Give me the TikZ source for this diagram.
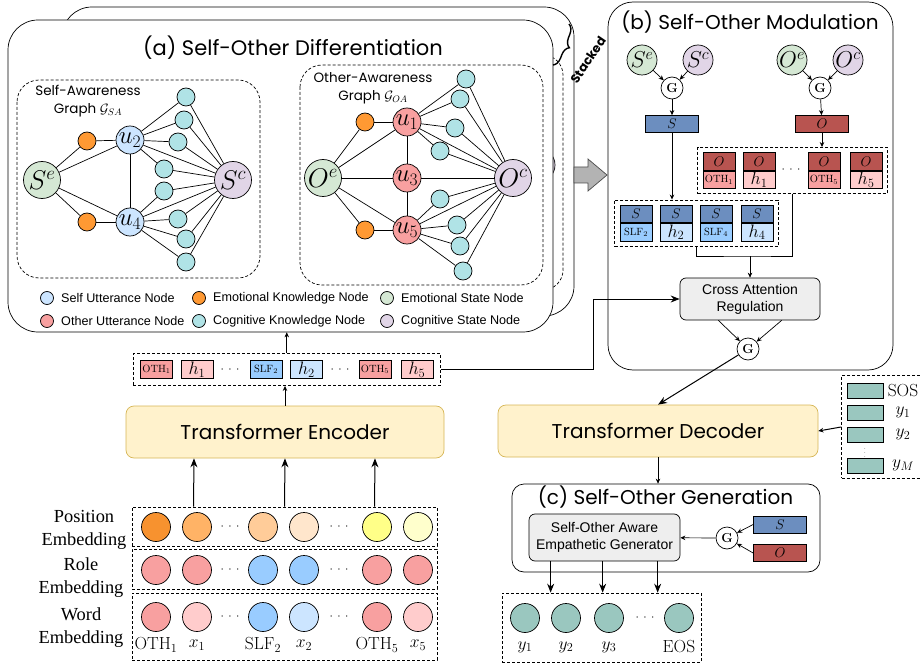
\RequirePackage{fix-cm}
\documentclass[tikz,border=0pt]{standalone}
\usepackage{amsmath}
\usepackage{fontspec}
\newfontfamily\comicfont{Poppins}
\newfontfamily\arialfont{Liberation Sans}
\newfontfamily\timesfont{Liberation Serif}
\definecolor{selfblue}{HTML}{CCE5FF}
\definecolor{slfblue}{HTML}{99CCFF}
\definecolor{othred}{HTML}{F8A0A0}
\definecolor{othpink}{HTML}{FFCCCC}
\definecolor{emoorange}{HTML}{FF9933}
\definecolor{cogcyan}{HTML}{B0E3E6}
\definecolor{estgreen}{HTML}{D5E8D4}
\definecolor{cstpurple}{HTML}{E1D5E7}
\definecolor{sblue}{HTML}{6C8EBF}
\definecolor{ored}{HTML}{B85450}
\definecolor{tfyellow}{HTML}{FFF2CC}
\definecolor{tfborder}{HTML}{D6B656}
\definecolor{outteal}{HTML}{9AC7BF}
\definecolor{boxgray}{HTML}{EEEEEE}
\definecolor{flowgray}{HTML}{B3B3B3}
\definecolor{posA}{HTML}{F7922F}
\definecolor{posB}{HTML}{FFB366}
\definecolor{posC}{HTML}{FFCC99}
\definecolor{posD}{HTML}{FFE6CC}
\definecolor{posE}{HTML}{FFFF88}
\definecolor{posF}{HTML}{FFFFCC}
\newcommand{\dotrow}{$\cdot$\hspace{4.5pt}$\cdot$\hspace{4.5pt}$\cdot$}
\newcommand{\roletag}[1]{{\fontsize{10.5}{10.5}\selectfont$\mathrm{#1}$}}
\usetikzlibrary{arrows.meta,positioning,fit,calc,decorations.pathreplacing}

\begin{document}
\begin{tikzpicture}[x=1pt,y=-1pt,line width=0.7pt,
    >={Stealth[length=5pt,width=4.5pt]},
    bigarrow/.style={line width=1pt,-{Stealth[length=9pt,width=7pt]}},
    panel/.style={draw,fill=white,rounded corners=30pt},
    ptitle/.style={font=\comicfont\fontsize{20}{20}\selectfont},
    gtitle/.style={font=\comicfont\fontsize{13.5}{18}\selectfont,align=center},
    dashbox/.style={draw,dash pattern=on 3pt off 2pt},
    unode/.style={draw,circle,inner sep=0pt,minimum size=28pt,font=\fontsize{25}{25}\selectfont},
    selfnode/.style={unode,fill=selfblue},
    othnode/.style={unode,fill=othred},
    knode/.style={draw,circle,inner sep=0pt,minimum size=18pt},
    emonode/.style={knode,fill=emoorange},
    cognode/.style={knode,fill=cogcyan},
    stnode/.style={draw,circle,inner sep=0pt,minimum size=37pt,font=\fontsize{27}{27}\selectfont},
    smallst/.style={stnode,minimum size=30pt,font=\fontsize{23}{23}\selectfont},
    legcirc/.style={draw,circle,inner sep=0pt,minimum size=13pt},
    legtext/.style={font=\arialfont\fontsize{12.6}{14}\selectfont,inner sep=0pt},
    gate/.style={draw,circle,fill=white,inner sep=0pt,minimum size=22pt,font=\fontsize{13}{13}\bfseries},
    vecbar/.style={draw,minimum width=53pt,minimum height=17pt,inner sep=0pt,font=\fontsize{14}{14}\selectfont},
    cell/.style={draw,minimum width=32pt,minimum height=17.5pt,inner sep=0pt,font=\fontsize{18}{18}\selectfont},
    graybox/.style={draw,fill=boxgray,rounded corners=6pt,align=center,font=\arialfont\fontsize{14}{17}\selectfont},
    tfbox/.style={draw=tfborder,fill=tfyellow,rounded corners=8pt,font=\comicfont\fontsize{20}{20}\selectfont},
    embcirc/.style={draw,circle,inner sep=0pt,minimum size=29pt},
    emblabel/.style={align=center,font=\timesfont\fontsize{18.4}{23}\selectfont},
    seqlabel/.style={font=\fontsize{17.5}{17.5}\selectfont},
    dotsnode/.style={font=\fontsize{12}{12}\selectfont}
    ]
    \useasboundingbox (0,0) rectangle (920,668);

    % the stacked layer behind
    \node[panel,minimum width=512pt,minimum height=309pt] (backbox) at (318,161.5) {};
    \draw[dashbox,rounded corners=20pt] (330,55) rectangle (563,290);
    \draw[fill=cstpurple] (538,165) circle (17pt);

    % the front layer
    \node[panel,minimum width=545pt,minimum height=312pt] (diffbox) at (280.5,176) {};
    \node[ptitle,font=\comicfont\fontsize{21}{21}\selectfont] (difftitle) at (293,48) {(a) Self-Other Differentiation};
    \draw[line width=1.4pt,decorate,decoration={brace,mirror,amplitude=9pt}] (553,65) -- (569,24);
    \node[font=\comicfont\bfseries\fontsize{12.5}{12.5}\selectfont,rotate=56] (stacked) at (588,60) {Stacked};

    % the self-awareness graph
    \draw[dashbox,rounded corners=22pt] (17,80) rectangle (260,278);
    \node[gtitle] (satitle) at (88,101) {Self-Awareness\\Graph $\mathcal{G}_{SA}$};
    \node[stnode,fill=estgreen] (se) at (42,180) {$S^e$};
    \node[stnode,fill=cstpurple] (sc) at (233,180) {$S^c$};
    \node[selfnode] (u2) at (130,140) {$u_2$};
    \node[selfnode] (u4) at (130,222) {$u_4$};
    \node[emonode] (ek2) at (87,141) {};
    \node[emonode] (ek4) at (87,222) {};
    \foreach \x/\y [count=\i] in {186/97,184/120,178/142,164/169,164/191,178/219,186/239,186/262}
      \node[cognode] (sk\i) at (\x,\y) {};
    \foreach \a/\b in {se/ek2,ek2/u2,se/u2,se/ek4,ek4/u4,se/u4,u2/u4,u2/sc,u4/sc}
      \draw (\a) -- (\b);
    \foreach \i in {1,...,4} \draw (u2) -- (sk\i);
    \foreach \i in {5,...,8} \draw (u4) -- (sk\i);
    \foreach \i in {1,...,8} \draw (sk\i) -- (sc);

    % the other-awareness graph
    \draw[dashbox,rounded corners=22pt] (300,65) rectangle (543,285);
    \node[gtitle] (oatitle) at (373,88.5) {Other-Awareness\\Graph $\mathcal{G}_{OA}$};
    \node[stnode,fill=estgreen] (oe) at (323,178) {$O^e$};
    \node[stnode,fill=cstpurple] (oc) at (513,178) {$O^c$};
    \node[othnode] (u1) at (407,122) {$u_1$};
    \node[othnode] (u3) at (407,178) {$u_3$};
    \node[othnode] (u5) at (407,230) {$u_5$};
    \node[emonode] (ek1) at (365,122) {};
    \node[emonode] (ek5) at (365,230) {};
    \foreach \x/\y [count=\i] in {466/79,460/99,455/128,440/151,440/199,457/225,460/246,463/271}
      \node[cognode] (ok\i) at (\x,\y) {};
    \foreach \a/\b in {oe/ek1,ek1/u1,oe/u1,oe/u3,u3/oc,oe/ek5,ek5/u5,oe/u5,u1/u3,u3/u5,u1/oc,u5/oc}
      \draw (\a) -- (\b);
    \foreach \i in {1,...,4} \draw (u1) -- (ok\i);
    \foreach \i in {5,...,8} \draw (u5) -- (ok\i);
    \foreach \i in {1,...,8} \draw (ok\i) -- (oc);

    % the legend
    \foreach \c/\t/\x/\y [count=\i] in {selfblue/Self Utterance Node/47/298,emoorange/Emotional Knowledge Node/199/298,estgreen/Emotional State Node/387/298,othred/Other Utterance Node/47/321,cogcyan/Cognitive Knowledge Node/199/321,cstpurple/Cognitive State Node/387/321}
    {
      \node[legcirc,fill=\c] (lc\i) at (\x,\y) {};
      \node[legtext,right=7pt of lc\i] (lt\i) {\t};
    }

    % the flow into modulation
    \draw[fill=flowgray,draw=black!70] (574,167) -- (588,167) -- (588,159) -- (607,175) -- (588,191) -- (588,183) -- (574,183) -- cycle;

    % (b) self-other modulation
    \node[panel,rounded corners=25pt,minimum width=285pt,minimum height=368pt] (modbox) at (750.5,186) {};
    \node[ptitle] (modtitle) at (750,22) {(b) Self-Other Modulation};
    \node[smallst,fill=estgreen] (bse) at (642,60) {$S^e$};
    \node[smallst,fill=cstpurple] (bsc) at (698,60) {$S^c$};
    \node[smallst,fill=estgreen] (boe) at (792,60) {$O^e$};
    \node[smallst,fill=cstpurple] (boc) at (848,60) {$O^c$};
    \node[gate] (g1) at (672,88) {G};
    \node[gate] (g2) at (820,88) {G};
    \node[vecbar,fill=sblue] (svec) at (672,124) {$S$};
    \node[vecbar,fill=ored] (ovec) at (822,124) {$O$};
    \draw[->] (bse) -- (g1);
    \draw[->] (bsc) -- (g1);
    \draw[->] (boe) -- (g2);
    \draw[->] (boc) -- (g2);
    \draw[->] (g1) -- (svec);
    \draw[->] (g2) -- (ovec);

    % the stacked cells
    \foreach \x/\c/\t [count=\i] in {719/othred/\roletag{OTH_1},759/othpink/$h_1$,824/othred/\roletag{OTH_5},866/othpink/$h_5$}
    {
      \node[cell,fill=ored,font=\fontsize{14}{14}\selectfont] (ot\i) at (\x,161.5) {$O$};
      \node[cell,fill=\c,below=0pt of ot\i] (ob\i) {\t};
    }
    \node[dotsnode] (odots) at (791,170) {\dotrow};
    \node[dashbox,fit=(ot1)(ob4),inner sep=5pt] (ogrp) {};
    \foreach \x/\c/\t [count=\i] in {636/slfblue/\roletag{SLF_2},676/selfblue/$h_2$,716/slfblue/\roletag{SLF_4},757/selfblue/$h_4$}
    {
      \node[cell,fill=sblue,font=\fontsize{14}{14}\selectfont] (st\i) at (\x,214) {$S$};
      \node[cell,fill=\c,below=0pt of st\i] (sb\i) {\t};
    }
    \node[dashbox,fit=(st1)(sb4),inner sep=5pt] (sgrp) {};
    \draw[->] (svec) -- (svec |- sgrp.north);
    \draw[->] (ovec) -- (ovec |- ogrp.north);

    % cross attention
    \node[graybox,minimum width=140pt,minimum height=42pt] (car) at (750,299) {Cross Attention\\Regulation};
    \coordinate (mrg) at (750,256);
    \draw (sgrp.south) |- (mrg) -| (ogrp.south);
    \draw[->] (mrg) -- (car.north);
    \node[gate] (g3) at (748,349) {G};
    \draw[->] ($(car.south)!0.45!(car.south west)$) -- (g3);
    \draw[->] ($(car.south)!0.45!(car.south east)$) -- (g3);

    % the encoder side
    \node[tfbox,minimum width=318pt,minimum height=52pt] (enc) at (285,432) {Transformer Encoder};
    \foreach \x/\c/\t [count=\i] in {156.5/othred/\roletag{OTH_1},197/othpink/$h_1$,266/slfblue/\roletag{SLF_2},306.5/selfblue/$h_2$,375/othred/\roletag{OTH_5},417/othpink/$h_5$}
      \node[cell,fill=\c] (hc\i) at (\x,369.5) {\t};
    \node[dotsnode] (hdots1) at (230,369.5) {\dotrow};
    \node[dotsnode] (hdots2) at (340,369.5) {\dotrow};
    \node[dashbox,fit=(hc1)(hc6),inner sep=7pt] (hgrp) {};
    \draw[->] (enc.north) -- (enc.north |- hgrp.south);
    \draw[->] (hgrp.north) -- (hgrp.north |- diffbox.south);
    \coordinate (bendx) at (593,299);
    \draw[bigarrow] (hgrp.east) -| (bendx) -- (car.west);

    % the embeddings
    \node[dashbox,minimum width=305pt,minimum height=39pt] (posgrp) at (284.5,526.5) {};
    \node[dashbox,minimum width=305pt,minimum height=40pt] (rolegrp) at (284.5,569) {};
    \node[dashbox,minimum width=305pt,minimum height=67pt] (wordgrp) at (284.5,626.5) {};
    \foreach \x/\c [count=\i] in {156/posA,197/posB,263/posC,304/posD,377/posE,418/posF}
      \node[embcirc,fill=\c] (pe\i) at (\x,527) {};
    \foreach \x/\c [count=\i] in {156/othred,197/othred,263/slfblue,304/slfblue,377/othred,418/othred}
      \node[embcirc,fill=\c] (re\i) at (\x,570) {};
    \foreach \x/\c/\t [count=\i] in {156/othred/\mathrm{OTH}_1,197/othpink/x_1,263/slfblue/\mathrm{SLF}_2,304/selfblue/x_2,377/othred/\mathrm{OTH}_5,418/othpink/x_5}
    {
      \node[embcirc,fill=\c] (we\i) at (\x,617) {};
      \node[seqlabel] (wl\i) at (\x,645) {$\t$};
    }
    \foreach \y [count=\r] in {527,570,617}
    {
      \node[dotsnode] (eda\r) at (230,\y) {\dotrow};
      \node[dotsnode] (edb\r) at (339,\y) {\dotrow};
    }
    \node[emblabel] (poslabel) at (84,530) {Position\\Embedding};
    \node[emblabel] (rolelabel) at (81,578) {Role\\Embedding};
    \node[emblabel] (wordlabel) at (81,628) {Word\\Embedding};
    \foreach \dx in {-91,0,90}
      \draw[bigarrow] ($(posgrp.north)+(\dx,0)$) -- ($(enc.south)+(\dx,0)$);

    % the decoder side
    \node[tfbox,minimum width=320pt,minimum height=52pt] (dec) at (658,431) {Transformer Decoder};
    \draw[bigarrow] (g3) -- (dec.north);
    \foreach \y/\t [count=\i] in {390.5/\mathrm{SOS},412.5/y_1,434.5/y_2,465.5/y_M}
    {
      \node[draw,fill=outteal,minimum width=36pt,minimum height=15pt,inner sep=0pt] (tk\i) at (865,\y) {};
      \node[seqlabel] (tl\i) at (903,\y) {$\t$};
    }
    \node[font=\fontsize{6}{6}\selectfont,inner sep=0pt] (tkdots) at (865,450) {$\vdots$};
    \node[dashbox,fit=(tk1)(tk4)(tl1),inner sep=5pt] (tokgrp) {};
    \draw[->,line width=1pt] (tokgrp.west) -- (dec.east);

    % (c) self-other generation
    \node[draw,rounded corners=12pt,minimum width=308pt,minimum height=88pt] (genbox) at (666,528) {};
    \draw[->] (dec.south) -- (dec.south |- genbox.north);
    \node[ptitle] (gentitle) at (665.5,497) {(c) Self-Other Generation};
    \node[graybox,minimum width=151pt,minimum height=47pt] (gen) at (604.5,537.5) {Self-Other Aware\\Empathetic Generator};
    \node[gate] (g4) at (727,538) {G};
    \node[vecbar,fill=sblue] (svec2) at (780,524.5) {$S$};
    \node[vecbar,fill=ored] (ovec2) at (780,553) {$O$};
    \draw[->] (svec2.west) -- (g4);
    \draw[->] (ovec2.west) -- (g4);
    \draw[->] (g4) -- (gen);
    \node[dashbox,minimum width=199pt,minimum height=69pt] (outgrp) at (601.5,627.5) {};
    \foreach \dx in {22,74,129}
      \draw[bigarrow] ($(gen.south west)+(\dx,0)$) -- ($(outgrp.north west)+(\dx+27,0)$);
    \foreach \x/\t [count=\i] in {525/y_1,566/y_2,609/y_3,679/\mathrm{EOS}}
    {
      \node[embcirc,fill=outteal] (yc\i) at (\x,618) {};
      \node[seqlabel] (yl\i) at (\x,647) {$\t$};
    }
    \node[dotsnode] (ydots) at (645,618) {\dotrow};
\end{tikzpicture}
\end{document}
